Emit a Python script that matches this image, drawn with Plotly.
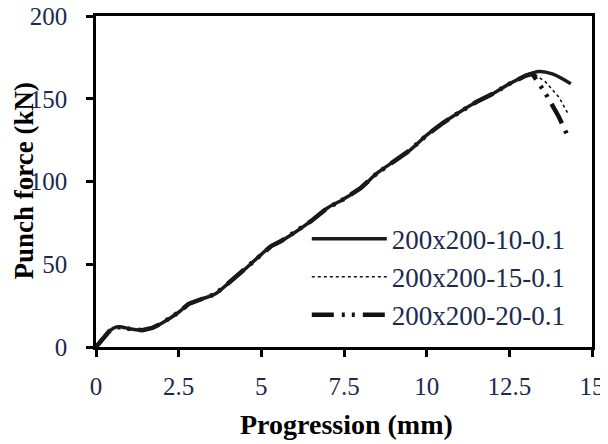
import plotly.graph_objects as go

# Series data (Progression mm, Punch force kN)
x_10 = [0, 0.2, 0.4, 0.6, 0.8, 1.0, 1.4, 1.7, 2.0, 2.5, 2.8, 3.2, 3.6, 4.0, 4.5, 5.0, 5.3, 5.6,
        6.0, 6.5, 7.0, 7.5, 8.0, 8.5, 9.0, 9.5, 10.0, 10.5, 11.0, 11.5, 12.0, 12.5, 13.0,
        13.4, 13.8, 14.36]
y_10 = [0, 5, 9.5, 12, 12, 11, 10.2, 11.5, 14.5, 21, 26, 29, 32, 38.5, 47, 56, 61, 64,
        69, 76, 84, 89.5, 96, 105, 112, 119, 128, 135.5, 142, 148, 153, 159, 164,
        166.5, 165, 159]

x_15 = [0, 0.2, 0.4, 0.6, 0.8, 1.0, 1.4, 1.7, 2.0, 2.5, 2.8, 3.2, 3.6, 4.0, 4.5, 5.0, 5.3, 5.6,
        6.0, 6.5, 7.0, 7.5, 8.0, 8.5, 9.0, 9.5, 10.0, 10.5, 11.0, 11.5, 12.0, 12.5, 13.0,
        13.25, 13.6, 14.0, 14.3]
y_15 = [0, 5, 9.5, 12, 12, 11, 10.2, 11.5, 14.5, 21, 26, 29, 32, 38.5, 47, 56, 61, 64,
        69, 76, 84, 89.5, 96, 105, 112, 119, 128, 135.5, 142, 148, 153, 159, 164,
        165, 160, 151, 140]

x_20 = [0, 0.2, 0.4, 0.6, 0.8, 1.0, 1.4, 1.7, 2.0, 2.5, 2.8, 3.2, 3.6, 4.0, 4.5, 5.0, 5.3, 5.6,
        6.0, 6.5, 7.0, 7.5, 8.0, 8.5, 9.0, 9.5, 10.0, 10.5, 11.0, 11.5, 12.0, 12.5, 13.0,
        13.2, 13.6, 13.8, 14.0, 14.3]
y_20 = [0, 5, 9.5, 12, 12, 11, 10.2, 11.5, 14.5, 21, 26, 29, 32, 38.5, 47, 56, 61, 64,
        69, 76, 84, 89.5, 96, 105, 112, 119, 128, 135.5, 142, 148, 153, 159, 164,
        165, 153, 146, 139, 126]

names = ["200x200-10-0.1", "200x200-15-0.1", "200x200-20-0.1"]
x_ticks = [0, 2.5, 5, 7.5, 10, 12.5, 15]
x_tick_labels = ["0", "2.5", "5", "7.5", "10", "12.5", "15"]
y_ticks = [0, 50, 100, 150, 200]
x_title = "Progression (mm)"
y_title = "Punch force (kN)"

serif = "Liberation Serif, Times New Roman, serif"
tick_color = "#1b2a4e"

fig = go.Figure()
fig.add_trace(go.Scatter(x=x_20, y=y_20, mode="lines", name=names[2],
                         line=dict(color="#111111", width=4.5, dash="22px,8px,3px,7px,3px,8px"),
                         legendrank=3))
fig.add_trace(go.Scatter(x=x_15, y=y_15, mode="lines", name=names[1],
                         line=dict(color="#111111", width=1.6, dash="dot"),
                         legendrank=2))
fig.add_trace(go.Scatter(x=x_10, y=y_10, mode="lines", name=names[0],
                         line=dict(color="#1a1a1a", width=3.5, shape="spline"),
                         legendrank=1))

# page has an 8px body margin, so the figure is offset by 8px
fig.update_layout(
    width=600, height=436,
    margin=dict(l=88, r=16, t=8, b=97, autoexpand=False),
    paper_bgcolor="white", plot_bgcolor="white",
    font=dict(family=serif, size=25, color=tick_color),
    showlegend=True,
    legend=dict(x=0.425, y=0.40, xanchor="left", yanchor="top",
                bgcolor="rgba(0,0,0,0)", itemwidth=75,
                font=dict(family=serif, size=27, color=tick_color),
                tracegroupgap=0),
    xaxis=dict(range=[0, 15], tickvals=x_ticks, ticktext=x_tick_labels,
               showgrid=False, zeroline=False, automargin=False,
               showline=True, linecolor="black", linewidth=2.5, mirror=True,
               ticks="outside", ticklen=7, tickwidth=2.5, tickcolor="black",
               ticklabelstandoff=8, ticklabeloverflow="allow",
               tickfont=dict(family=serif, size=25, color=tick_color)),
    yaxis=dict(range=[0, 200], tickvals=y_ticks,
               showgrid=False, zeroline=False, automargin=False,
               showline=True, linecolor="black", linewidth=2.5, mirror=True,
               ticks="outside", ticklen=7, tickwidth=2.5, tickcolor="black",
               ticklabelstandoff=14, ticklabeloverflow="allow",
               tickfont=dict(family=serif, size=25, color=tick_color)),
    annotations=[
        dict(text="<b>" + x_title + "</b>", xref="paper", yref="paper",
             x=0.505, y=-0.235, xanchor="center", yanchor="middle", showarrow=False,
             font=dict(family=serif, size=28, color="black")),
        dict(text="<b>" + y_title + "</b>", xref="paper", yref="paper",
             x=-0.147, y=0.5, xanchor="center", yanchor="middle", showarrow=False,
             textangle=-90, borderpad=0,
             font=dict(family=serif, size=27, color="black")),
    ],
)

fig.write_html("out.html")
